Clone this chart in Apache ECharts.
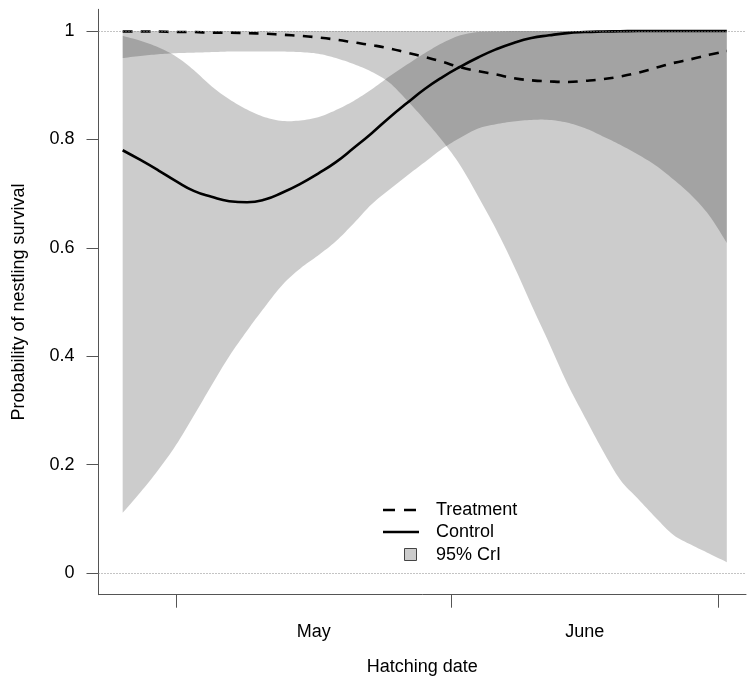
<!DOCTYPE html>
<html>
<head>
<meta charset="utf-8">
<script src="https://cdn.jsdelivr.net/npm/echarts@6/dist/echarts.min.js"></script>
<style>
  html, body { margin: 0; padding: 0; background: #fff; }
  #chart { width: 747px; height: 684px; }
</style>
</head>
<body>
<div id="chart"></div>
<script>
// Hatching date in days relative to 1 May (1 June = 31, 1 July = 61)
const days = [-6, -4, -2, 0, 2, 4, 6, 8, 10, 12, 14, 16, 18, 20, 22, 24, 26, 28, 30,
  32, 34, 36, 38, 40, 42, 44, 46, 48, 50, 52, 54, 56, 58, 60, 62];

// Posterior mean survival probability
const treatmentMean = [0.999, 0.999, 0.999, 0.998, 0.998, 0.997, 0.997, 0.996, 0.995, 0.993,
  0.991, 0.988, 0.984, 0.979, 0.974, 0.968, 0.960, 0.952, 0.943, 0.933, 0.926, 0.920,
  0.913, 0.909, 0.907, 0.906, 0.908, 0.911, 0.916, 0.923, 0.932, 0.941, 0.948, 0.956, 0.963];
const controlMean = [0.780, 0.762, 0.743, 0.723, 0.705, 0.694, 0.686, 0.684, 0.689, 0.702,
  0.718, 0.737, 0.758, 0.784, 0.811, 0.840, 0.867, 0.893, 0.915, 0.934, 0.951, 0.966,
  0.978, 0.987, 0.992, 0.996, 0.998, 0.999, 0.9995, 1.0, 1.0, 1.0, 1.0, 1.0, 1.0];

// 95% credible intervals
const treatmentLower = [0.950, 0.954, 0.957, 0.959, 0.960, 0.961, 0.962, 0.962, 0.962, 0.962,
  0.961, 0.958, 0.950, 0.939, 0.925, 0.905, 0.872, 0.836, 0.797, 0.752, 0.695, 0.635,
  0.568, 0.495, 0.424, 0.351, 0.288, 0.227, 0.172, 0.137, 0.102, 0.070, 0.052, 0.036, 0.020];
const treatmentUpper = [1, 1, 1, 1, 1, 1, 1, 1, 1, 1, 1, 1, 1, 1, 1, 1, 1, 1, 1, 1, 1, 1,
  1, 1, 1, 1, 1, 1, 1, 1, 1, 1, 1, 1, 1];
const controlLower = [0.111, 0.149, 0.190, 0.236, 0.290, 0.346, 0.400, 0.447, 0.491, 0.532,
  0.562, 0.586, 0.612, 0.645, 0.680, 0.707, 0.733, 0.758, 0.783, 0.803, 0.820, 0.828,
  0.833, 0.836, 0.836, 0.831, 0.821, 0.806, 0.790, 0.772, 0.752, 0.726, 0.697, 0.660, 0.609];
const controlUpper = [0.991, 0.982, 0.970, 0.953, 0.928, 0.898, 0.874, 0.855, 0.841, 0.834,
  0.835, 0.841, 0.854, 0.871, 0.892, 0.916, 0.938, 0.959, 0.978, 0.992, 0.998, 0.999,
  1, 1, 1, 1, 1, 1, 1, 1, 1, 1, 1, 1, 1];

// Axis ticks and labels
const monthTicks = [0, 31, 61];
const monthLabelAt = [15.5, 46];
const monthLabels = ['May', 'June'];
const probTicks = [0, 0.2, 0.4, 0.6, 0.8, 1];
const refLines = [0, 1];
const legendLabels = ['Treatment', 'Control', '95% CrI'];

const FONT = '"Liberation Sans", Arial, sans-serif';
const AXIS_COLOR = '#555';

function pairs(ys) { return days.map((d, i) => [d, ys[i]]); }

// Catmull-Rom spline through screen points, so band edges are drawn as smooth curves
function spline(pts, steps) {
  const out = [];
  for (let i = 0; i < pts.length - 1; i++) {
    const p0 = pts[Math.max(i - 1, 0)], p1 = pts[i], p2 = pts[i + 1], p3 = pts[Math.min(i + 2, pts.length - 1)];
    for (let s = 0; s < steps; s++) {
      const t = s / steps, t2 = t * t, t3 = t2 * t;
      const f = (a, b, c, d) => 0.5 * ((2 * b) + (-a + c) * t + (2 * a - 5 * b + 4 * c - d) * t2 + (-a + 3 * b - 3 * c + d) * t3);
      out.push([f(p0[0], p1[0], p2[0], p3[0]), f(p0[1], p1[1], p2[1], p3[1])]);
    }
  }
  out.push(pts[pts.length - 1]);
  return out;
}

function band(name, lower, upper) {
  return {
    type: 'custom',
    name: name,
    silent: true,
    z: 1,
    data: pairs(lower),
    renderItem: function (params, api) {
      if (params.dataIndex !== 0) return null;
      const top = days.map((d, i) => api.coord([d, upper[i]]));
      const bottom = days.map((d, i) => api.coord([d, lower[i]])).reverse();
      const pts = spline(top, 8).concat(spline(bottom, 8));
      return {
        type: 'polygon',
        shape: { points: pts },
        style: { fill: 'rgba(0,0,0,0.2)', stroke: null }
      };
    }
  };
}

const chart = echarts.init(document.getElementById('chart'), null, { renderer: 'canvas' });

chart.setOption({
  animation: false,
  backgroundColor: '#fff',
  textStyle: { fontFamily: FONT },
  grid: { left: 98.5, top: 9.3, width: 647.5, height: 585.4, containLabel: false },
  xAxis: {
    type: 'value',
    min: -8.72,
    max: 64.16,
    name: 'Hatching date',
    nameLocation: 'middle',
    nameGap: 63,
    nameTextStyle: { fontSize: 18, color: '#000', fontFamily: FONT },
    splitLine: { show: false },
    axisLine: { show: true, onZero: false, lineStyle: { color: AXIS_COLOR, width: 1 } },
    axisTick: { show: true, length: 13, customValues: monthTicks, lineStyle: { color: AXIS_COLOR } },
    axisLabel: {
      show: true,
      customValues: monthLabelAt,
      margin: 28,
      fontSize: 18,
      color: '#000',
      fontFamily: FONT,
      formatter: function (v) {
        const i = monthLabelAt.indexOf(v);
        return i >= 0 ? monthLabels[i] : '';
      }
    }
  },
  yAxis: {
    type: 'value',
    min: -0.04,
    max: 1.04,
    name: 'Probability of nestling survival',
    nameLocation: 'middle',
    nameGap: 70,
    nameTextStyle: { fontSize: 18, color: '#000', fontFamily: FONT },
    splitLine: { show: false },
    axisLine: { show: true, onZero: false, lineStyle: { color: AXIS_COLOR, width: 1 } },
    axisTick: { show: true, length: 12, customValues: probTicks, lineStyle: { color: AXIS_COLOR } },
    axisLabel: {
      show: true,
      customValues: probTicks,
      margin: 24,
      fontSize: 18,
      color: '#000',
      fontFamily: FONT,
      formatter: function (v) { return String(Math.round(v * 10) / 10); }
    }
  },
  series: [
    band('Treatment CrI', treatmentLower, treatmentUpper),
    band('Control CrI', controlLower, controlUpper),
    {
      type: 'line',
      name: 'Treatment',
      z: 3,
      data: pairs(treatmentMean),
      smooth: 0.5,
      showSymbol: false,
      silent: true,
      lineStyle: { color: '#000', width: 2.6, type: [10, 8] },
      markLine: {
        silent: true,
        symbol: 'none',
        label: { show: false },
        lineStyle: { color: '#888', width: 1, type: [1, 2] },
        data: refLines.map(v => ({ yAxis: v }))
      }
    },
    {
      type: 'line',
      name: 'Control',
      z: 3,
      data: pairs(controlMean),
      smooth: 0.5,
      showSymbol: false,
      silent: true,
      lineStyle: { color: '#000', width: 2.6, type: 'solid' }
    }
  ],
  graphic: [
    { type: 'line', shape: { x1: 383, y1: 510, x2: 419, y2: 510 },
      style: { stroke: '#000', lineWidth: 2.6, lineDash: [12, 9] } },
    { type: 'line', shape: { x1: 383, y1: 532, x2: 419, y2: 532 },
      style: { stroke: '#000', lineWidth: 2.6 } },
    { type: 'rect', shape: { x: 404.5, y: 548.5, width: 12, height: 12 },
      style: { fill: '#cccccc', stroke: '#444', lineWidth: 1 } },
    { type: 'text', x: 436, y: 510,
      style: { text: legendLabels[0], font: '18px ' + FONT, fill: '#000', verticalAlign: 'middle' } },
    { type: 'text', x: 436, y: 532,
      style: { text: legendLabels[1], font: '18px ' + FONT, fill: '#000', verticalAlign: 'middle' } },
    { type: 'text', x: 436, y: 555,
      style: { text: legendLabels[2], font: '18px ' + FONT, fill: '#000', verticalAlign: 'middle' } }
  ]
});
</script>
</body>
</html>
